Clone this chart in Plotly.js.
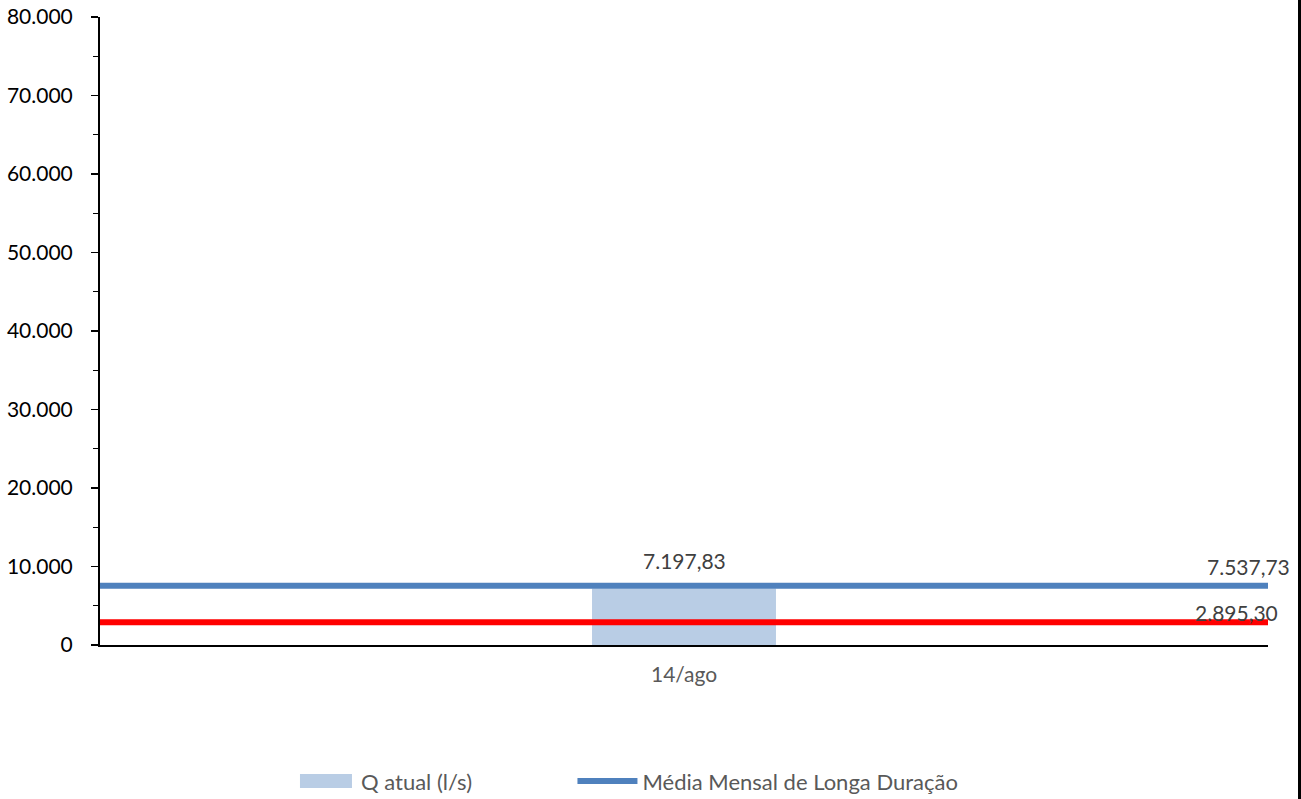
<!DOCTYPE html>
<html>
<head>
<meta charset="utf-8">
<script src="https://cdn.plot.ly/plotly-3.0.1.min.js"></script>
<style>
  html, body { margin: 0; padding: 0; background: #fff; }
  #chart { width: 1298px; height: 799px; border-right: 3px solid #000; }
  .scatterlayer path.js-line { stroke-linecap: round; }
</style>
</head>
<body>
<div id="chart"></div>
<script>
// Data
var categories = ["14/ago"];
var qAtual = [7197.83];
var mediaMensal = 7537.73;
var referenciaVermelha = 2895.30;
var lineSpan = [0, 1];

var FONT = "Lato, 'Open Sans', sans-serif";

var traces = [
  {
    type: "bar",
    name: "Q atual (l/s)",
    x: categories,
    y: qAtual,
    width: 0.1575,
    marker: { color: "#b9cde5" },
    legend: "legend",
    hoverinfo: "y"
  },
  {
    type: "scatter",
    mode: "lines",
    name: "Média Mensal de Longa Duração",
    x: lineSpan,
    y: [mediaMensal, mediaMensal],
    xaxis: "x2",
    line: { color: "#4f81bd", width: 6 },
    legend: "legend2",
    hoverinfo: "y"
  },
  {
    type: "scatter",
    mode: "lines",
    name: "Referência",
    x: lineSpan,
    y: [referenciaVermelha, referenciaVermelha],
    xaxis: "x2",
    line: { color: "#ff0000", width: 6 },
    showlegend: false,
    hoverinfo: "y"
  }
];

var fmt = function (v) {
  var s = v.toFixed(2).split(".");
  return s[0].replace(/\B(?=(\d{3})+(?!\d))/g, ".") + "," + s[1];
};

var legendFont = { family: FONT, size: 22, color: "#595959" };

var layout = {
  width: 1298,
  height: 799,
  margin: { l: 100, r: 30, t: 17, b: 154, autoexpand: false },
  paper_bgcolor: "#fff",
  plot_bgcolor: "#fff",
  separators: ",.",
  font: { family: FONT, size: 20, color: "#595959" },
  showlegend: true,
  legend: {
    orientation: "h",
    x: 0.1635, xanchor: "left",
    y: -0.217, yanchor: "middle",
    font: legendFont,
    itemwidth: 60,
    bgcolor: "rgba(0,0,0,0)"
  },
  legend2: {
    orientation: "h",
    x: 0.4045, xanchor: "left",
    y: -0.217, yanchor: "middle",
    font: legendFont,
    itemwidth: 60,
    bgcolor: "rgba(0,0,0,0)"
  },
  xaxis: {
    type: "category",
    automargin: false,
    showline: true,
    linecolor: "#000",
    linewidth: 2,
    ticks: "",
    showgrid: false,
    zeroline: false,
    ticklabelstandoff: 10,
    tickfont: { family: FONT, size: 21, color: "#595959" }
  },
  xaxis2: {
    overlaying: "x",
    range: [0, 1],
    visible: false,
    fixedrange: true
  },
  yaxis: {
    range: [0, 80000],
    dtick: 10000,
    tickformat: ",d",
    automargin: false,
    showline: true,
    linecolor: "#000",
    linewidth: 2,
    ticks: "outside",
    ticklen: 7,
    tickwidth: 1.5,
    tickcolor: "#000",
    minor: { dtick: 5000, ticks: "outside", ticklen: 5, tickwidth: 1.2, tickcolor: "#000" },
    showgrid: false,
    zeroline: false,
    ticklabelstandoff: 14,
    tickfont: { family: FONT, size: 21, color: "#000" }
  },
  annotations: [
    {
      x: categories[0], y: qAtual[0], xref: "x", yref: "y",
      text: fmt(qAtual[0]), showarrow: false,
      yanchor: "bottom", yshift: 14,
      font: { family: FONT, size: 21, color: "#404040" }
    },
    {
      x: lineSpan[1], y: mediaMensal, xref: "x2", yref: "y",
      text: fmt(mediaMensal), showarrow: false,
      xanchor: "right", xshift: 24, yshift: 19,
      font: { family: FONT, size: 21, color: "#404040" }
    },
    {
      x: lineSpan[1], y: referenciaVermelha, xref: "x2", yref: "y",
      text: fmt(referenciaVermelha), showarrow: false,
      xanchor: "right", xshift: 12, yshift: 10,
      font: { family: FONT, size: 21, color: "#404040" }
    }
  ]
};

Plotly.newPlot("chart", traces, layout, { displayModeBar: false, staticPlot: true }).then(function (gd) {
  // widen the bar legend swatch to a wide rectangle like the reference
  var paths = gd.querySelectorAll(".legendpoints path");
  paths.forEach(function (p) {
    var d = p.getAttribute("d") || "";
    if (/^M6,6H-6V-6H6Z$/.test(d.replace(/\s/g, ""))) {
      p.setAttribute("d", "M26,7H-26V-7H26Z");
    }
  });
});
</script>
</body>
</html>
